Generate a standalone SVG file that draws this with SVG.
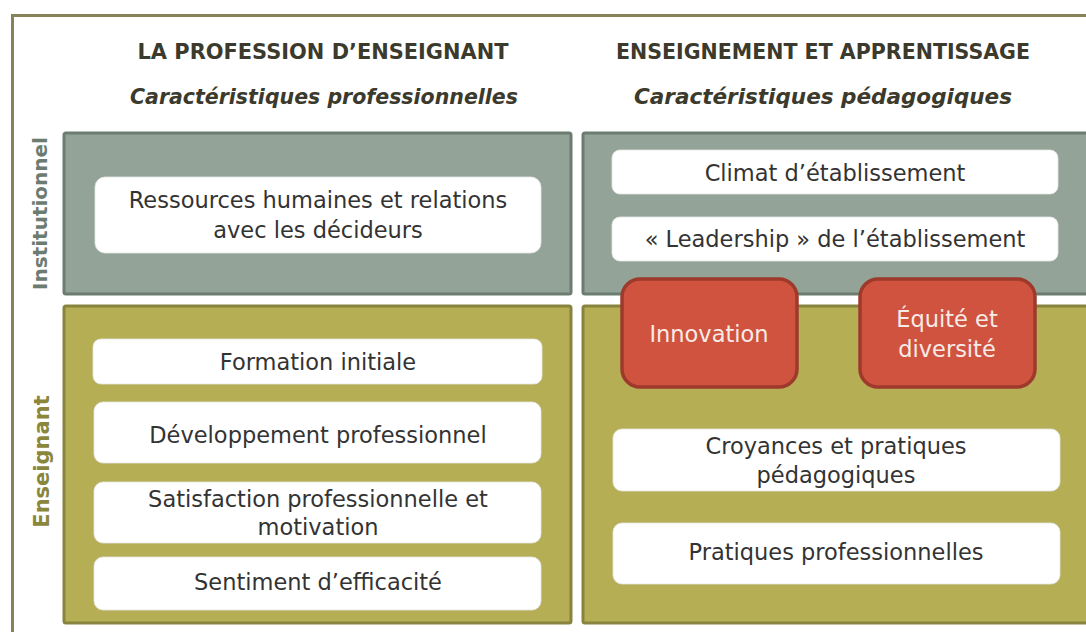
<svg xmlns="http://www.w3.org/2000/svg" width="1086" height="632" viewBox="0 0 1086 632">
<style>
.hdr{font-family:"DejaVu Sans","Liberation Sans",sans-serif;font-weight:bold;fill:#3b3a2c;text-anchor:middle}
.sub{font-family:"DejaVu Sans","Liberation Sans",sans-serif;font-weight:bold;font-style:italic;fill:#3b3a2c;text-anchor:middle}
.grey{fill:#93a397;stroke:#6d7c71;stroke-width:3}
.olive{fill:#b5ae55;stroke:#88843f;stroke-width:3}
.box{fill:#ffffff;stroke:#e6e6e6;stroke-width:0.8}
.bt{font-family:"DejaVu Sans","Liberation Sans",sans-serif;font-size:22.5px;fill:#333333;text-anchor:middle}
.red{fill:#cf533f;stroke:#9d3a2b;stroke-width:3.5}
.rt{font-family:"DejaVu Sans","Liberation Sans",sans-serif;font-size:22.5px;fill:#f7ebe7;text-anchor:middle}
.vl{font-family:"DejaVu Sans","Liberation Sans",sans-serif;font-weight:bold;text-anchor:middle}
</style>
<rect x="0" y="0" width="1086" height="632" fill="#ffffff"/>
<rect id="frame" x="12.5" y="15.5" width="1100" height="640" fill="none" stroke="#86835a" stroke-width="3"/>
<g id="headers">
<text class="hdr" x="323" y="59" font-size="21" textLength="371" lengthAdjust="spacingAndGlyphs">LA PROFESSION D’ENSEIGNANT</text>
<text class="sub" x="324" y="104" font-size="21" textLength="388" lengthAdjust="spacingAndGlyphs">Caractéristiques professionnelles</text>
<text class="hdr" x="823" y="59" font-size="21" textLength="414" lengthAdjust="spacingAndGlyphs">ENSEIGNEMENT ET APPRENTISSAGE</text>
<text class="sub" x="823" y="104" font-size="21" textLength="378" lengthAdjust="spacingAndGlyphs">Caractéristiques pédagogiques</text>
</g>
<g id="row-labels">
<text class="vl" font-size="20" fill="#6d7c71" transform="translate(47,213.5) rotate(-90)">Institutionnel</text>
<text class="vl" font-size="21" fill="#8a873c" transform="translate(49,461.5) rotate(-90)">Enseignant</text>
</g>
<g id="panels">
<rect id="panel-inst-prof" class="grey" x="64" y="133" width="507" height="161" rx="2"/>
<rect id="panel-inst-ped" class="grey" x="583" y="133" width="520" height="161" rx="2"/>
<rect id="panel-ens-prof" class="olive" x="64" y="306" width="507" height="317" rx="2"/>
<rect id="panel-ens-ped" class="olive" x="583" y="306" width="520" height="317" rx="2"/>
</g>
<g id="node-ressources"><rect class="box" x="95" y="177" width="446" height="76" rx="10"/><text class="bt" x="318" y="208">Ressources humaines et relations</text><text class="bt" x="318" y="238">avec les décideurs</text></g>
<g id="node-formation"><rect class="box" x="93" y="339" width="449" height="45" rx="8"/><text class="bt" x="318" y="370">Formation initiale</text></g>
<g id="node-developpement"><rect class="box" x="94" y="402" width="447" height="61" rx="9"/><text class="bt" x="318" y="443">Développement professionnel</text></g>
<g id="node-satisfaction"><rect class="box" x="94" y="482" width="447" height="61" rx="9"/><text class="bt" x="318" y="507">Satisfaction professionnelle et</text><text class="bt" x="318" y="535">motivation</text></g>
<g id="node-sentiment"><rect class="box" x="94" y="557" width="447" height="53" rx="9"/><text class="bt" x="318" y="590">Sentiment d’efficacité</text></g>
<g id="node-climat"><rect class="box" x="612" y="150" width="446" height="44" rx="8"/><text class="bt" x="835" y="181">Climat d’établissement</text></g>
<g id="node-leadership"><rect class="box" x="612" y="217" width="446" height="44" rx="8"/><text class="bt" x="835" y="247">« Leadership » de l’établissement</text></g>
<g id="node-croyances"><rect class="box" x="613" y="429" width="447" height="62" rx="9"/><text class="bt" x="836" y="454">Croyances et pratiques</text><text class="bt" x="836" y="483">pédagogiques</text></g>
<g id="node-pratiques"><rect class="box" x="613" y="523" width="447" height="61" rx="9"/><text class="bt" x="836" y="560">Pratiques professionnelles</text></g>
<g id="node-innovation"><rect class="red" x="622" y="279" width="175" height="108" rx="18"/><text class="rt" x="709" y="342">Innovation</text></g>
<g id="node-equite"><rect class="red" x="860" y="279" width="175" height="108" rx="18"/><text class="rt" x="947" y="327">Équité et</text><text class="rt" x="947" y="357">diversité</text></g>
<g id="connectors"></g>
</svg>
